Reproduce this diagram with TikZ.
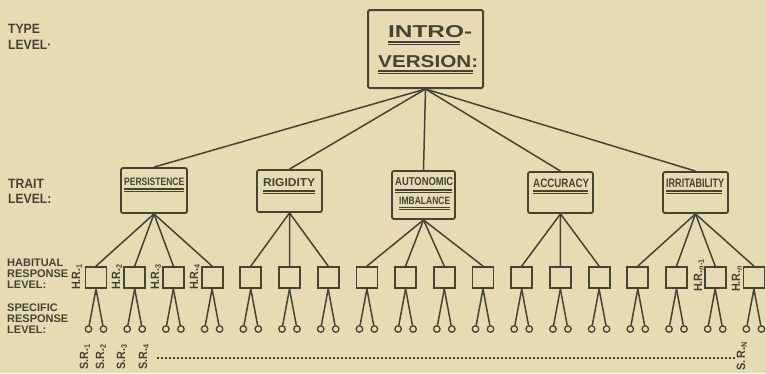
\documentclass[tikz,border=0pt]{standalone}
\usepackage{fontspec}
\usepackage{graphicx}
\setmainfont{Liberation Sans}
\newfontfamily\labfont[FakeStretch=0.9]{Liberation Sans}
\definecolor{paper}{RGB}{231,219,180}
\definecolor{ink}{RGB}{68,68,52}
\newcommand\fitbox[3]{\resizebox{#1}{#2}{\bfseries #3}}
\begin{document}
\begin{tikzpicture}[x=1pt,y=-1pt,
  every node/.style={text=ink},
  lvl/.style={anchor=base west, inner sep=0pt, font=\bfseries\fontsize{11}{11}\selectfont},
  big/.style={anchor=base west, inner sep=0pt, font=\labfont\bfseries\fontsize{13.5}{13.5}\selectfont},
  rlab/.style={rotate=90, anchor=base west, inner sep=0pt, font=\labfont\bfseries\fontsize{12}{12}\selectfont},
  topbox/.style={draw=ink, line width=2pt, rounded corners=1.5pt, minimum width=115pt, minimum height=78pt, inner sep=0pt},
  traitbox/.style={draw=ink, line width=1.8pt, rounded corners=2pt, inner sep=0pt},
  hrbox/.style={draw=ink, line width=1.8pt, minimum width=21pt, minimum height=21pt, inner sep=0pt},
  conn/.style={draw=ink, line width=1.5pt},
  leaf/.style={circle, draw=ink, line width=1.3pt, minimum size=6.5pt, inner sep=0pt, fill=paper},
  ulthick/.style={draw=ink, line width=1.1pt},
  ulthin/.style={draw=ink, line width=0.7pt},
  txt/.style={anchor=base west, inner sep=0pt}
]
\fill[paper] (0,0) rectangle (766,373);
\useasboundingbox (0,0) rectangle (766,373);

% level labels
\node[big] (t1) at (8,33) {TYPE};
\node[big] (t2) at (8,49) {LEVEL·};
\node[big] (r1) at (8,188) {TRAIT};
\node[big] (r2) at (8,203) {LEVEL:};
\node[lvl] (h1l) at (7,266) {HABITUAL};
\node[lvl] (h2l) at (7,277) {RESPONSE};
\node[lvl] (h3l) at (7,288) {LEVEL:};
\node[lvl] (s1l) at (7,311) {SPECIFIC};
\node[lvl] (s2l) at (7,322) {RESPONSE};
\node[lvl] (s3l) at (7,333) {LEVEL:};

% type box
\node[topbox] (intro) at (425.5,49) {};
\node[txt] (introA) at (388,37) {\fitbox{84pt}{12pt}{INTRO-}};
\node[txt] (introB) at (378,67) {\fitbox{100pt}{12pt}{VERSION:}};
\draw[ulthick] (388,42) -- (460,42); \draw[ulthin] (388,44.5) -- (460,44.5);
\draw[ulthick] (378,71) -- (473,71); \draw[ulthin] (378,73.5) -- (473,73.5);

% trait boxes
\node[traitbox, minimum width=66pt, minimum height=45pt] (per) at (154,190.5) {};
\node[traitbox, minimum width=65pt, minimum height=42pt] (rig) at (289.5,191) {};
\node[traitbox, minimum width=63pt, minimum height=48pt] (aut) at (423.5,195) {};
\node[traitbox, minimum width=65pt, minimum height=41pt] (acc) at (560.5,192.5) {};
\node[traitbox, minimum width=65pt, minimum height=41pt] (irr) at (695.5,192.5) {};

\node[txt] (perT) at (124,185.5) {\fitbox{60pt}{7.5pt}{PERSISTENCE}};
\draw[ulthick] (124,189) -- (184,189); \draw[ulthin] (124,191) -- (184,191);
\node[txt] (rigT) at (263,186) {\fitbox{52pt}{8pt}{RIGIDITY}};
\draw[ulthick] (263,191) -- (315,191); \draw[ulthin] (263,193) -- (315,193);
\node[txt] (autT) at (395,185) {\fitbox{58pt}{8pt}{AUTONOMIC}};
\draw[ulthick] (395,190) -- (452,190); \draw[ulthin] (395,192) -- (452,192);
\node[txt] (autU) at (399,204) {\fitbox{51pt}{7.5pt}{IMBALANCE}};
\draw[ulthick] (399,207.5) -- (450,207.5); \draw[ulthin] (399,209.5) -- (450,209.5);
\node[txt] (accT) at (533,187) {\fitbox{56pt}{8.5pt}{ACCURACY}};
\draw[ulthick] (533,191) -- (588,191); \draw[ulthin] (533,193) -- (588,193);
\node[txt] (irrT) at (666,187) {\fitbox{58pt}{8.5pt}{IRRITABILITY}};
\draw[ulthick] (666,191) -- (722,191); \draw[ulthin] (666,193) -- (722,193);

\foreach \t in {per,rig,aut,acc,irr} \draw[conn] (intro.south) -- (\t.north);

% habitual response boxes and specific responses
\foreach \i in {1,...,18} {
  \pgfmathsetmacro\cx{96+38.7*(\i-1)}
  \node[hrbox] (h\i) at (\cx,277.5) {};
  \node[leaf] (la\i) at (\cx-7.5,329) {};
  \node[leaf] (lb\i) at (\cx+7.5,329) {};
  \draw[conn] (h\i.south) -- (la\i);
  \draw[conn] (h\i.south) -- (lb\i);
}
\foreach \i in {1,...,4} \draw[conn] (per.south) -- (h\i.north);
\foreach \i in {5,...,7} \draw[conn] (rig.south) -- (h\i.north);
\foreach \i in {8,...,11} \draw[conn] (aut.south) -- (h\i.north);
\foreach \i in {12,...,14} \draw[conn] (acc.south) -- (h\i.north);
\foreach \i in {15,...,18} \draw[conn] (irr.south) -- (h\i.north);

% H.R. labels
\node[rlab] (hr1) at (80,290) {H.R.\textsubscript{1}};
\node[rlab] (hr2) at (120,290) {H.R.\textsubscript{2}};
\node[rlab] (hr3) at (159,290) {H.R.\textsubscript{3}};
\node[rlab] (hr4) at (198,290) {H.R.\textsubscript{4}};
\node[rlab] (hrn1) at (702,292) {H.R.\textsubscript{\textit{n}-1}};
\node[rlab] (hrn) at (740,292) {H.R.\textsubscript{\textit{n}}};

% S.R. labels
\node[rlab] (sr1) at (88,370) {S.R.\textsubscript{1}};
\node[rlab] (sr2) at (104,370) {S.R.\textsubscript{2}};
\node[rlab] (sr3) at (125,370) {S.R.\textsubscript{3}};
\node[rlab] (sr4) at (147,370) {S.R.\textsubscript{4}};
\node[rlab] (srN) at (745,371) {S.\,R.\textsubscript{N}};

% dotted row
\coordinate (d1) at (157,358);
\coordinate (d2) at (737,358);
\draw[ink, line width=1.3pt, dash pattern=on 1.5pt off 2.5pt] (d1) -- (d2);
\end{tikzpicture}
\end{document}
